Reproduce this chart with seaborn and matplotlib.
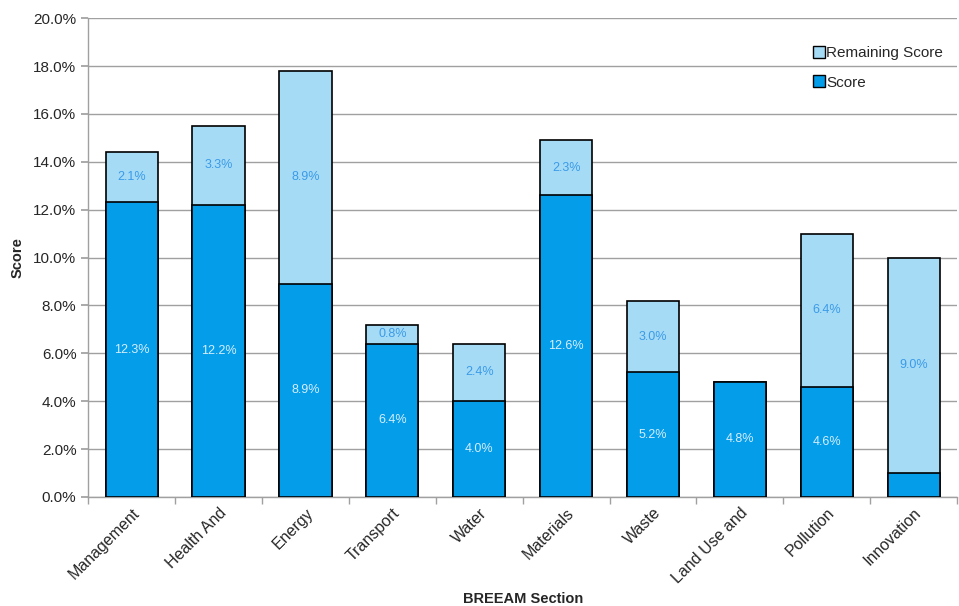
import matplotlib
matplotlib.use("Agg")
import matplotlib.pyplot as plt
import seaborn as sns
import pandas as pd
import numpy as np
from matplotlib.lines import Line2D

categories = ["Management", "Health And", "Energy", "Transport", "Water",
              "Materials", "Waste", "Land Use and", "Pollution", "Innovation"]
score = [12.3, 12.2, 8.9, 6.4, 4.0, 12.6, 5.2, 4.8, 4.6, 1.0]
remaining = [2.1, 3.3, 8.9, 0.8, 2.4, 2.3, 3.0, 0.0, 6.4, 9.0]
yticks = [0, 2, 4, 6, 8, 10, 12, 14, 16, 18, 20]

score_col = "#039DEA"
rem_col = "#A6DBF6"

sns.set_theme(style="white")
plt.rcParams['font.family'] = ['Liberation Sans', 'DejaVu Sans']

df = pd.DataFrame({"section": categories, "score": score, "remaining": remaining})
df["total"] = df["score"] + df["remaining"]

fig = plt.figure(figsize=(9.59, 6.06), dpi=100)
ax = fig.add_axes([0.092, 0.180, 0.906, 0.790])

sns.barplot(data=df, x="section", y="total", color=rem_col, saturation=1,
            width=0.6, edgecolor="black", linewidth=1.2, ax=ax, zorder=3)
sns.barplot(data=df, x="section", y="score", color=score_col, saturation=1,
            width=0.6, edgecolor="black", linewidth=1.2, ax=ax, zorder=4)

for i, (s, r) in enumerate(zip(score, remaining)):
    if s >= 2:
        ax.text(i, s / 2, f"{s:.1f}%", ha="center", va="center", fontsize=9,
                color="#D6EEFF", zorder=5)
    if r >= 0.5:
        ax.text(i, s + r / 2, f"{r:.1f}%", ha="center", va="center", fontsize=9,
                color="#3A9BE8", zorder=5)

ax.set_ylim(0, 20)
ax.set_xlim(-0.5, len(categories) - 0.5)
ax.set_yticks(yticks)
ax.set_yticklabels([f"{v:.1f}%" for v in yticks], fontsize=11)
ax.yaxis.grid(True, color="#A0A0A0", linewidth=1, zorder=0)
ax.set_axisbelow(True)

ax.set_xticks(range(len(categories)))
ax.set_xticklabels(categories, rotation=45, ha="right", rotation_mode="anchor", fontsize=11.5)
ax.tick_params(axis="x", which="major", length=0, pad=6)
ax.set_xticks(np.arange(-0.5, len(categories), 1), minor=True)
ax.tick_params(axis="x", which="minor", length=5, color="#A0A0A0", direction="out", bottom=True)
ax.tick_params(axis="y", which="major", length=5, color="#A0A0A0", direction="out", left=True)

for side in ["top", "right"]:
    ax.spines[side].set_visible(False)
for side in ["left", "bottom"]:
    ax.spines[side].set_color("#A0A0A0")
    ax.spines[side].set_linewidth(1)

ax.set_xlabel("BREEAM Section", fontsize=10.5, fontweight="bold", labelpad=4)
ax.set_ylabel("Score", fontsize=10.5, fontweight="bold", labelpad=6)

handles = [Line2D([0], [0], marker="s", linestyle="none", markersize=8,
                  markerfacecolor=rem_col, markeredgecolor="black", markeredgewidth=1),
           Line2D([0], [0], marker="s", linestyle="none", markersize=8,
                  markerfacecolor=score_col, markeredgecolor="black", markeredgewidth=1)]
leg = ax.legend(handles, ["Remaining Score", "Score"], loc="upper right",
                bbox_to_anchor=(1.0, 0.97), frameon=False, fontsize=11,
                handletextpad=0.0, labelspacing=1.0, handlelength=1.0)

fig.savefig("out.png", dpi=100)
